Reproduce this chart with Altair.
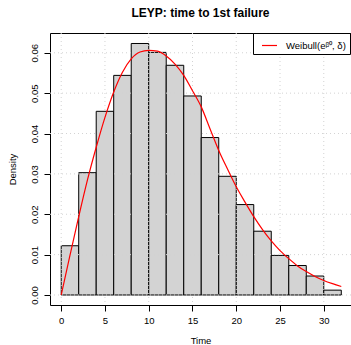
import altair as alt
import pandas as pd

# Histogram (bins of width 2, density scale)
bin_starts = [0, 2, 4, 6, 8, 10, 12, 14, 16, 18, 20, 22, 24, 26, 28, 30]
bin_ends = [2, 4, 6, 8, 10, 12, 14, 16, 18, 20, 22, 24, 26, 28, 30, 32]
densities = [0.0122, 0.0303, 0.0455, 0.0544, 0.0623, 0.0601, 0.0569, 0.0493,
             0.0390, 0.0294, 0.0224, 0.0158, 0.0098, 0.0073, 0.0047, 0.0012]

# Fitted Weibull density curve
curve_t = list(range(0, 33))
curve_d = [0.0, 0.0098, 0.0194, 0.0285, 0.0366, 0.0440, 0.0503, 0.0552, 0.0585,
           0.0602, 0.0606, 0.0604, 0.0592, 0.0572, 0.0544, 0.0506, 0.0466,
           0.0412, 0.0358, 0.0312, 0.0268, 0.0230, 0.0194, 0.0162, 0.0134,
           0.0110, 0.0090, 0.0072, 0.0058, 0.0046, 0.0036, 0.0028, 0.0021]

x_ticks = [0, 5, 10, 15, 20, 25, 30]
y_ticks = [0.0, 0.01, 0.02, 0.03, 0.04, 0.05, 0.06]
legend_label = "Weibull(eᵝ⁰, δ)"
title_text = "LEYP: time to 1st failure"

FONT = "Liberation Sans"

hist_df = pd.DataFrame({"start": bin_starts, "end": bin_ends, "density": densities})
curve_df = pd.DataFrame({"t": curve_t, "d": curve_d, "name": [legend_label] * len(curve_t)})
xgrid_df = pd.DataFrame({"start": x_ticks})
ygrid_df = pd.DataFrame({"density": y_ticks})

xscale = alt.Scale(domain=[-1.28, 33.11], nice=False, zero=False)
yscale = alt.Scale(domain=[-0.00248, 0.0649], nice=False, zero=False)

x_axis = alt.Axis(values=x_ticks, title="Time", grid=False, domain=False,
                  tickSize=6, tickColor="black", labelColor="black",
                  labelFontSize=9.5, labelFont=FONT, labelPadding=4,
                  titleFont=FONT, titleFontSize=9.5, titleFontWeight="normal",
                  titleColor="black", titlePadding=11, format="d")
y_axis = alt.Axis(values=y_ticks, title="Density", grid=False, domain=False,
                  tickSize=6, tickColor="black", labelColor="black",
                  labelFontSize=9.5, labelFont=FONT, labelPadding=5,
                  labelAngle=270, labelAlign="center", labelBaseline="bottom",
                  titleFont=FONT, titleFontSize=9.5, titleFontWeight="normal",
                  titleColor="black", titlePadding=12, format=".2f")

X = alt.X("start:Q", scale=xscale, axis=x_axis, title="Time")
Y = alt.Y("density:Q", scale=yscale, axis=y_axis, title="Density")

bars = alt.Chart(hist_df).mark_rect(fill="#D3D3D3", stroke="black", strokeWidth=1).encode(
    x=X,
    x2="end:Q",
    y=Y,
    y2=alt.datum(0),
)

xgrid = alt.Chart(xgrid_df).mark_rule(color="#D3D3D3", strokeDash=[1, 3], strokeWidth=1).encode(
    x=X
)
ygrid = alt.Chart(ygrid_df).mark_rule(color="#D3D3D3", strokeDash=[1, 3], strokeWidth=1).encode(
    y=Y
)

curve = alt.Chart(curve_df).mark_line(strokeWidth=1.2, interpolate="monotone").transform_calculate(
    start="datum.t", density="datum.d"
).encode(
    x=X,
    y=Y,
    color=alt.Color("name:N",
                    scale=alt.Scale(domain=[legend_label], range=["#FF0000"]),
                    legend=alt.Legend(orient="none", legendX=203, legendY=0, title=None,
                                      symbolType="stroke", symbolSize=225,
                                      symbolStrokeWidth=1.2, symbolOffset=4,
                                      labelFont=FONT, labelFontSize=9.5, labelColor="black",
                                      labelOffset=8, padding=4, strokeColor="black",
                                      fillColor="white", cornerRadius=0)),
)

chart = alt.layer(bars, xgrid, ygrid, curve).properties(
    width=301,
    height=272,
    padding={"left": 50, "top": 33, "right": 0, "bottom": 40},
    autosize="none",
    title=alt.Title(title_text, font=FONT, fontSize=12, fontWeight="bold",
                    color="black", anchor="middle", offset=13),
    background="white",
).configure_view(stroke="black", strokeWidth=1)

chart.save("out.html", embed_options={"renderer": "svg", "actions": False})
